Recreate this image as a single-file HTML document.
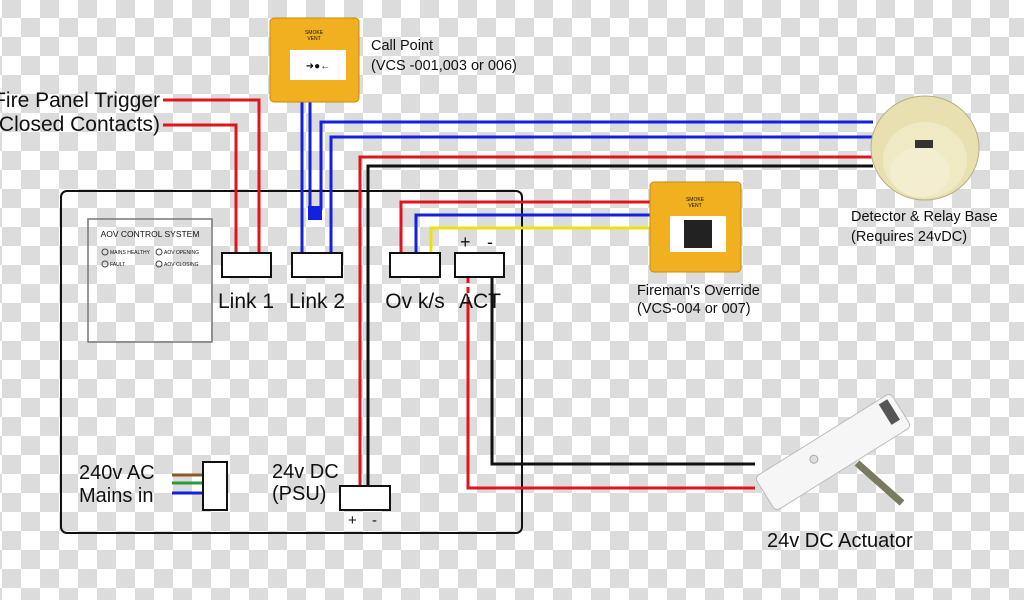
<!DOCTYPE html>
<html><head><meta charset="utf-8"><style>
html,body{margin:0;padding:0}
body{width:1024px;height:600px;overflow:hidden;position:relative;
background-color:#fff;
background-image:linear-gradient(45deg,#dcdcdc 25%,transparent 25%,transparent 75%,#dcdcdc 75%),linear-gradient(45deg,#dcdcdc 25%,transparent 25%,transparent 75%,#dcdcdc 75%);
background-size:38px 38px;background-position:21px -1px,2px 18px;}
svg{position:absolute;left:0;top:0}
text{font-family:"Liberation Sans",sans-serif;fill:#111}
</style></head><body>
<svg width="1024" height="600" viewBox="0 0 1024 600">
<rect x="61" y="191" width="461" height="342" rx="6" fill="none" stroke="#111" stroke-width="2"/>
<rect x="88" y="219" width="124" height="123" fill="none" stroke="#777" stroke-width="1.5"/>
<text x="150" y="237" font-size="8.5" text-anchor="middle" fill="#444">AOV CONTROL SYSTEM</text>
<g fill="none" stroke="#444" stroke-width="1"><circle cx="105" cy="252" r="3"/><circle cx="105" cy="264" r="3"/><circle cx="159" cy="252" r="3"/><circle cx="159" cy="264" r="3"/></g>
<g font-size="5" fill="#555"><text x="110" y="254">MAINS HEALTHY</text><text x="110" y="266">FAULT</text><text x="164" y="254">AOV OPENING</text><text x="164" y="266">AOV CLOSING</text></g>
<g fill="none" stroke-width="3">
<polyline points="163,100 259,100 259,253" stroke="#e0141e"/>
<polyline points="163,125 236,125 236,253" stroke="#e0141e"/>
<polyline points="302,102 302,253" stroke="#1420e0"/>
<polyline points="310,102 310,210" stroke="#1420e0"/>
<polyline points="873,122 321,122 321,210" stroke="#1420e0"/>
<polyline points="873,137 331,137 331,253" stroke="#1420e0"/>
<polyline points="873,157 360,157 360,487" stroke="#e0141e"/>
<polyline points="873,166 368,166 368,487" stroke="#111"/>
<polyline points="650,202 401,202 401,253" stroke="#e0141e"/>
<polyline points="650,215 416,215 416,253" stroke="#1420e0"/>
<polyline points="650,228 431,228 431,253" stroke="#f0e010"/>
<polyline points="468,277 468,300" stroke="#e0141e" stroke-dasharray="6,4"/>
<polyline points="468,300 468,488 755,488" stroke="#e0141e"/>
<polyline points="492,277 492,464 755,464" stroke="#111"/>
<line x1="172" y1="475" x2="203" y2="475" stroke="#8b5a2b"/>
<line x1="172" y1="483" x2="203" y2="483" stroke="#2a9a3a"/>
<line x1="172" y1="493" x2="203" y2="493" stroke="#1420e0"/>
</g>
<rect x="308" y="206" width="14" height="14" fill="#1420e0"/>
<g fill="#fff" stroke="#111" stroke-width="2">
<rect x="222" y="253" width="49" height="24"/><rect x="292" y="253" width="50" height="24"/>
<rect x="390" y="253" width="50" height="24"/><rect x="455" y="253" width="49" height="24"/>
<rect x="340" y="486" width="50" height="24"/><rect x="203" y="462" width="24" height="48"/>
</g>
<g font-size="21"><text x="246" y="308" text-anchor="middle">Link 1</text><text x="317" y="308" text-anchor="middle">Link 2</text>
<text x="415" y="308" text-anchor="middle">Ov k/s</text><text x="480" y="308" text-anchor="middle">ACT</text></g>
<text x="460" y="248" font-size="18">+</text><text x="487" y="248" font-size="18">-</text>
<text x="348" y="525" font-size="15">+</text><text x="372" y="525" font-size="15">-</text>
<g font-size="20"><text x="79" y="479">240v AC</text><text x="79" y="502">Mains in</text>
<text x="272" y="478">24v DC</text><text x="272" y="500">(PSU)</text>
<text x="767" y="547">24v DC Actuator</text></g>
<g font-size="21"><text x="160" y="107" text-anchor="end">Fire Panel Trigger</text><text x="160" y="131" text-anchor="end">(Closed Contacts)</text></g>
<g font-size="14.5"><text x="371" y="50">Call Point</text><text x="371" y="70">(VCS -001,003 or 006)</text>
<text x="637" y="295">Fireman's Override</text><text x="637" y="313">(VCS-004 or 007)</text>
<text x="851" y="221">Detector &amp; Relay Base</text><text x="851" y="241">(Requires 24vDC)</text></g>
<rect x="270" y="18" width="89" height="84" rx="4" fill="#f0b020" stroke="#c88a10"/>
<rect x="290" y="50" width="56" height="30" fill="#fff"/>
<text x="314" y="34" font-size="5" text-anchor="middle">SMOKE</text><text x="314" y="40" font-size="5" text-anchor="middle">VENT</text>
<text x="318" y="69" font-size="10" text-anchor="middle">➜●←</text>
<rect x="650" y="182" width="91" height="90" rx="4" fill="#f0b020" stroke="#c88a10"/>
<rect x="670" y="216" width="56" height="36" fill="#fff"/>
<rect x="684" y="220" width="28" height="28" fill="#222"/>
<text x="695" y="201" font-size="5" text-anchor="middle">SMOKE</text><text x="695" y="207" font-size="5" text-anchor="middle">VENT</text>
<ellipse cx="925" cy="148" rx="54" ry="52" fill="#e8e0b0" stroke="#b8ae80"/>
<ellipse cx="925" cy="160" rx="42" ry="38" fill="#efe9c4"/>
<ellipse cx="920" cy="172" rx="30" ry="25" fill="#f3eecf"/>
<rect x="915" y="140" width="18" height="8" fill="#333"/>
<line x1="857" y1="463" x2="902" y2="503" stroke="#7a7a60" stroke-width="7"/>
<g transform="translate(833,452) rotate(-32)">
<rect x="-80" y="-20" width="160" height="40" rx="5" fill="#f6f6f6" stroke="#bbb"/>
<rect x="64" y="-16" width="10" height="24" fill="#555"/>
<circle cx="-20" cy="-4" r="4" fill="#ddd" stroke="#aaa"/>
</g>
</svg>
</body></html>
